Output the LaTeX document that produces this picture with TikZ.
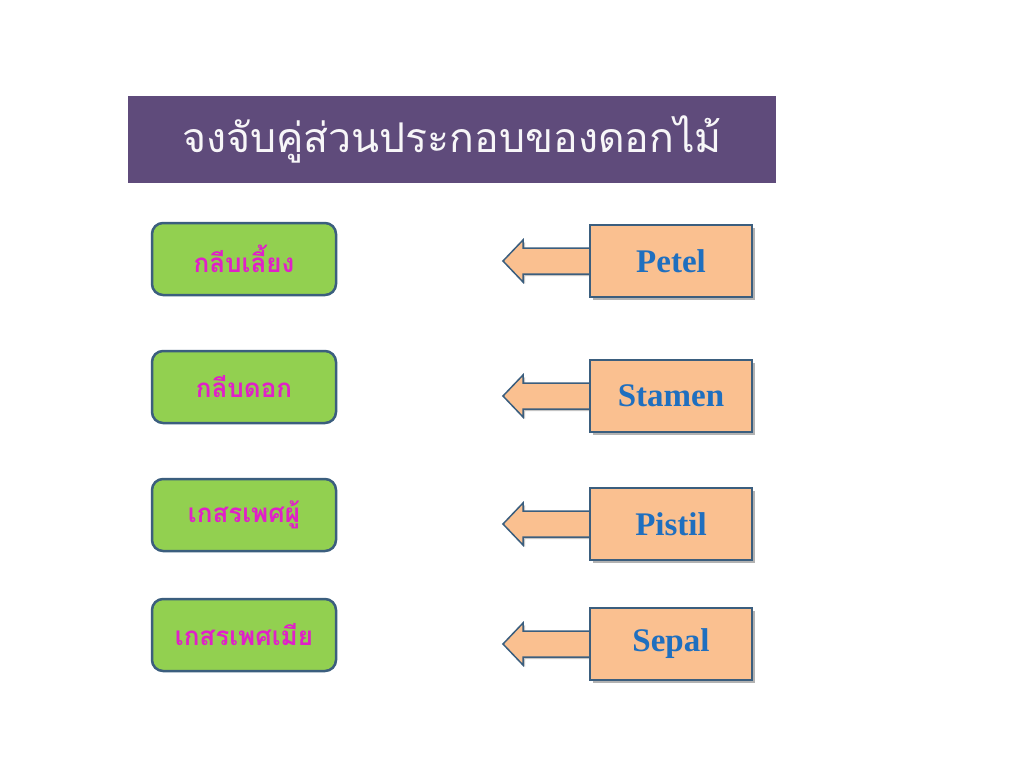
\documentclass[tikz,border=0pt]{standalone}
\usepackage{fontspec}
\setmainfont{Liberation Serif}
\newfontfamily\thaifont[Script=Thai]{Loma}
\usetikzlibrary{shadows}
\definecolor{banner}{HTML}{5F4B7B}
\definecolor{greenfill}{HTML}{92D050}
\definecolor{edgeblue}{HTML}{3B5E7E}
\definecolor{thaimag}{HTML}{E020C8}
\definecolor{orangefill}{HTML}{FAC090}
\definecolor{labelblue}{HTML}{1F6FBF}
\tikzset{
  greenbox/.style={draw=edgeblue, line width=2.5pt, fill=greenfill, rounded corners=11pt,
    minimum width=184pt, minimum height=72pt, inner sep=0pt,
    font=\thaifont\bfseries\fontsize{26}{30}\selectfont, text=thaimag},
  callbox/.style={draw=edgeblue, line width=1.5pt, fill=orangefill,
    minimum width=162pt, minimum height=72pt, inner sep=0pt,
    drop shadow={shadow xshift=3pt, shadow yshift=-3pt, opacity=0.6},
    font=\bfseries\fontsize{33}{38}\selectfont, text=labelblue},
  callarrow/.style={draw=edgeblue, line width=1.5pt, fill=orangefill, line join=miter,
    drop shadow={shadow xshift=2pt, shadow yshift=-2pt, opacity=0.45}},
}
\begin{document}
\begin{tikzpicture}[x=1pt,y=-1pt]
\useasboundingbox[fill=white] (0,0) rectangle (1024,768);
\node[fill=banner, minimum width=648pt, minimum height=87pt, inner sep=0pt,
  font=\thaifont\fontsize{41}{48}\selectfont, text=white!95!banner] (title) at (452,139.5)
  {จงจับคู่ส่วนประกอบของดอกไม้};

\node[greenbox] (g1) at (244,259) {กลีบเลี้ยง};
\node[greenbox] (g2) at (244,387) {กลีบดอก};
\node[greenbox] (g3) at (244,515) {เกสรเพศผู้};
\node[greenbox] (g4) at (244,635) {เกสรเพศเมีย};

\foreach \n/\c/\t in {p1/261/Petel, p2/396/Stamen, p3/524/Pistil, p4/644/Sepal}{
  \coordinate (\n tip) at (503,\c);
  \path[callarrow] (\n tip) -- ++(20,-21) -- ++(0,8) -- ++(72,0) -- ++(0,26) -- ++(-72,0) -- ++(0,8) -- cycle;
  \node[callbox] (\n) at (671,\c) {\t};
}
\end{tikzpicture}
\end{document}
